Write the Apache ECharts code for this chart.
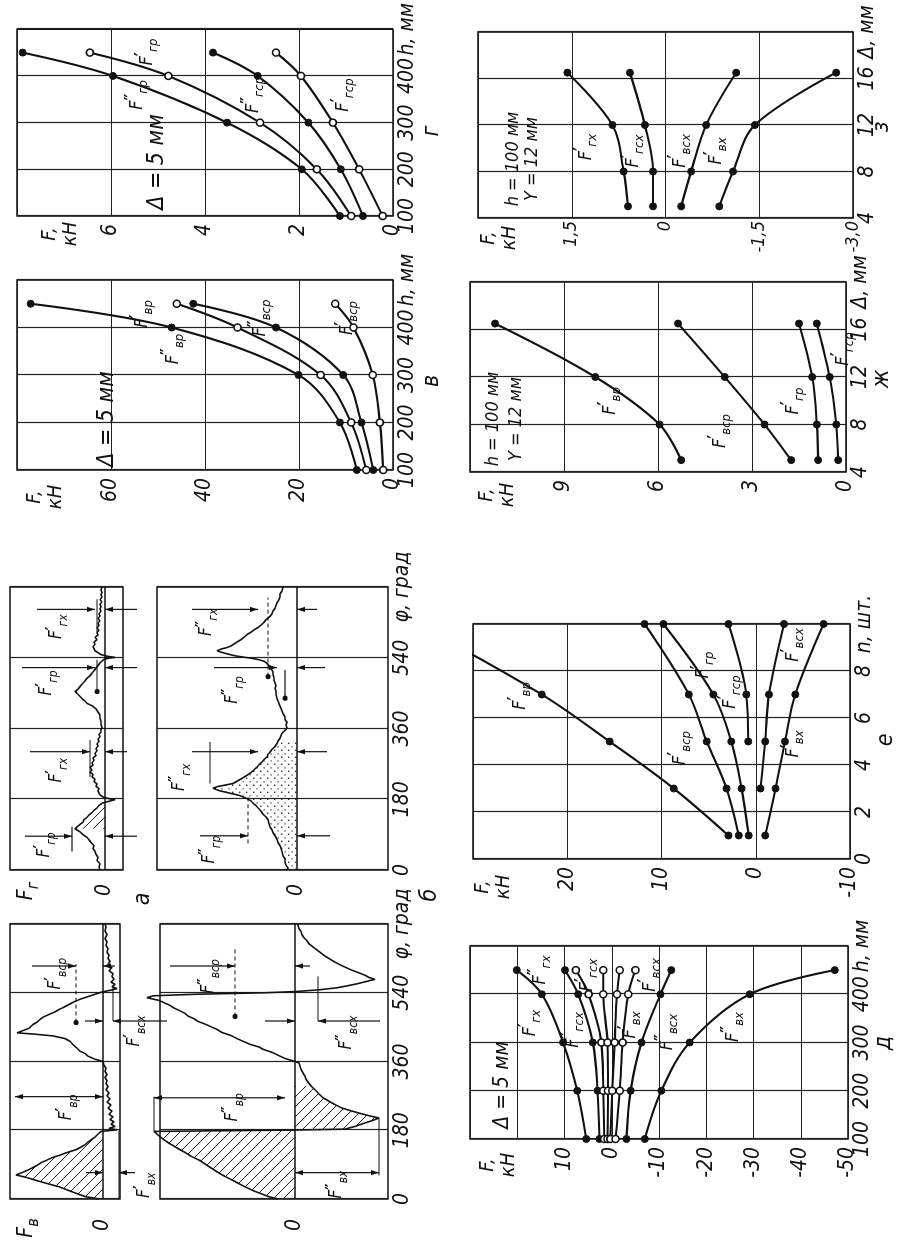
<!DOCTYPE html>
<html><head><meta charset="utf-8">
<script src="https://cdn.jsdelivr.net/npm/echarts@6/dist/echarts.min.js"></script>
<style>
html,body{margin:0;padding:0;background:#fff;overflow:hidden;width:907px;height:1242px;}
#wrap{position:absolute;left:0;top:0;width:1242px;height:907px;transform-origin:0 0;transform:translate(0px,1242px) rotate(-90deg);background:#fff;}
</style></head><body><div id="wrap"></div>
<script>
// ---------- DATA ----------
// panel г (Δ=5 мм), h, мм
const hG = [100, 200, 300, 400, 450];
const gFgr2  = [1.13, 1.94, 3.53, 5.96, 7.88];
const gFgr1  = [0.89, 1.62, 2.83, 4.78, 6.45];
const gFgsr2 = [0.64, 1.11, 1.80, 2.88, 3.83];
const gFgsr1 = [0.22, 0.72, 1.28, 1.96, 2.49];
// panel в (Δ=5 мм)
const hV = [100, 200, 300, 400, 450];
const vFvr2  = [7.7, 11.3, 20.1, 47.1, 77.1];
const vFvr1  = [5.7, 8.9, 15.4, 33.1, 46.0];
const vFvsr2 = [4.2, 6.7, 10.6, 24.9, 42.5];
const vFvsr1 = [2.1, 2.8, 4.3, 8.4, 12.3];
// panel з (h=100, Y=12), Δ, мм
const dZ = [5, 8, 12, 16.5];
const zFgx  = [0.60, 0.67, 0.85, 1.57];
const zFgsx = [0.20, 0.20, 0.33, 0.57];
const zFvsx = [-0.25, -0.41, -0.65, -1.13];
const zFvx  = [-0.86, -1.08, -1.43, -2.73];
// panel ж (h=100, Y=12)
const dJ = [5, 8, 12, 16.5];
const jFvr  = [5.26, 5.95, 8.0, 11.2];
const jFvsr = [1.75, 2.6, 3.87, 5.36];
const jFgr  = [0.89, 0.93, 1.08, 1.5];
const jFgsr = [0.25, 0.31, 0.52, 0.93];
// panel е, n, шт.
const nE = [1, 3, 5, 7, 10];
const eFvr  = [2.9, 8.7, 15.5, 22.7, 36.0];
const eFvsr = [1.8, 3.1, 5.2, 7.1, 11.8];
const eFgr  = [0.75, 1.5, 2.6, 4.5, 9.8];
const eFgsr = [null, null, 0.8, 1.0, 2.9];
const eFvsx = [null, -0.5, -1.0, -1.4, -3.0];
const eFvx  = [-1.0, -2.1, -3.1, -4.2, -7.2];
// panel д (Δ=5 мм)
const hD = [100, 200, 300, 400, 450];
const dFgx1  = [5.4, 7.3, 10.3, 14.8, 20.1];
const dFgx2  = [2.6, 3.0, 4.0, 7.1, 9.9];
const dFgsx2 = [1.6, 1.8, 2.2, 4.9, 7.6];
const dFgsx1 = [0.9, 0.8, 0.9, 1.8, 1.8];
const dFvsx1 = [0.3, -0.1, -0.6, -1.1, -1.7];
const dFvx1  = [-0.8, -1.7, -2.3, -3.5, -5.0];
const dFvsx2 = [-3.1, -4.0, -6.3, -10.3, -12.6];
const dFvx2  = [-7.0, -10.5, -16.5, -29.2, -47.2];
// oscillograms [φ, F] (relative units)
const sigBv1 = [[0,4],[6,17],[12,24],[20,32],[26,38],[32,44],[40,55],[48,66],[56,76],[63,87],[70,80],[76,75],[81,71],[88,66],[95,62],[102,56],[108,51],[114,44],[120,38],[125,32],[129,27],[136,22],[142,18],[149,15],[155,12],[162,8],[170,5],[177,2],[181,-14],[185,-6],[190,-12],[196,-8],[202,-11],[208,-7],[215,-10],[222,-6],[230,-9],[238,-5],[246,-8],[254,-4],[262,-7],[270,-4],[278,-6],[286,-3],[294,-5],[302,-3],[310,-4],[318,-2],[326,-4],[334,-2],[342,-3],[350,-1],[360,0],[366,8],[374,15],[381,18],[387,23],[395,26],[404,30],[413,33],[420,38],[427,50],[432,70],[435,86],[441,80],[447,74],[452,73],[457,70],[463,66],[470,63],[476,60],[482,55],[490,48],[496,44],[501,40],[508,35],[515,30],[523,23],[530,15],[536,8],[542,1],[547,-8],[551,-14],[556,-9],[562,-12],[568,-8],[575,-11],[583,-9],[590,-10],[598,-6],[606,-9],[614,-5],[622,-7],[630,-5],[638,-6],[646,-4],[655,-5],[664,-3],[673,-4],[682,-2],[692,-4],[702,-2],[712,-3],[720,-2]];
const sigBv2 = [[0,17],[6,26],[14,34],[22,42],[32,50],[40,56],[50,63],[59,70],[68,76],[78,82],[90,89],[102,96],[112,104],[122,110],[132,117],[140,122],[146,126],[155,131],[163,135],[170,138],[177,141],[179,141],[180.5,0],[183,-50],[190,-60],[199,-70],[206,-78],[212,-84],[218,-74],[225,-64],[231,-56],[238,-47],[247,-40],[256,-34],[265,-28],[275,-24],[286,-20],[296,-16],[306,-13],[314,-11],[321,-10],[330,-8],[340,-6],[348,-5],[356,-4],[360,0],[368,10],[374,15],[383,22],[392,32],[398,36],[405,45],[413,52],[420,58],[428,64],[436,73],[444,78],[451,84],[458,90],[465,97],[472,101],[479,107],[486,110],[494,116],[500,121],[507,125],[514,131],[520,136],[527,148],[532,142],[536,100],[540,30],[543,0],[548,-25],[553,-42],[558,-52],[564,-63],[570,-72],[575,-80],[580,-74],[586,-70],[594,-62],[600,-56],[606,-51],[612,-46],[620,-40],[628,-35],[636,-30],[644,-26],[652,-22],[660,-18],[668,-14],[676,-12],[684,-9],[692,-7],[700,-6],[708,-4],[716,-3],[720,-3]];
const sigBg1 = [[0,5],[8,6],[16,5],[24,8],[32,7],[40,9],[47,10],[55,12],[62,11],[70,14],[77,16],[83,18],[90,22],[97,25],[105,30],[110,28],[116,25],[122,22],[128,21],[134,18],[140,16],[146,13],[152,11],[158,8],[164,6],[170,3],[175,1],[179,-10],[182,-3],[186,2],[191,5],[196,4],[201,7],[207,6],[213,9],[219,8],[225,11],[231,10],[237,13],[243,12],[249,15],[255,13],[261,15],[267,12],[273,13],[279,11],[285,12],[291,9],[297,10],[303,8],[309,9],[315,7],[321,8],[327,6],[333,7],[339,5],[345,6],[351,4],[357,4],[363,3],[370,4],[378,4],[386,5],[394,5],[402,7],[410,9],[418,13],[424,18],[430,20],[436,23],[441,25],[447,27],[454,30],[460,27],[465,26],[470,24],[475,23],[481,20],[488,18],[494,15],[501,13],[507,11],[512,10],[517,8],[522,7],[527,5],[532,3],[536,1],[539,-4],[541,-10],[544,-2],[548,4],[553,7],[558,10],[563,9],[568,12],[574,10],[580,11],[586,8],[592,10],[598,7],[604,8],[610,6],[616,8],[622,6],[628,7],[634,5],[640,7],[646,5],[652,6],[658,4],[664,5],[670,4],[676,5],[682,3],[688,5],[694,3],[700,4],[706,3],[712,4],[720,3]];
const sigBg2 = [[0,10],[6,9],[12,11],[20,12],[28,12],[36,14],[47,15],[55,16],[62,17],[70,19],[78,20],[87,22],[95,24],[102,25],[110,27],[118,28],[128,29],[135,31],[142,34],[150,36],[158,39],[164,41],[170,44],[176,46],[180,47],[184,52],[190,58],[196,68],[202,78],[208,84],[212,80],[216,72],[220,64],[226,60],[233,55],[241,50],[248,46],[255,43],[262,40],[268,38],[275,35],[281,33],[288,30],[294,29],[300,27],[307,25],[314,22],[322,20],[328,19],[335,17],[342,16],[348,15],[355,12],[362,10],[369,11],[376,10],[383,12],[390,12],[398,14],[405,15],[411,16],[416,17],[423,18],[430,19],[436,20],[441,20],[448,21],[455,21],[462,22],[469,21],[476,22],[483,23],[490,23],[497,24],[503,24],[509,25],[515,27],[520,28],[526,30],[531,33],[535,38],[538,44],[541,52],[545,62],[550,70],[555,77],[558,80],[562,76],[566,70],[570,66],[575,63],[580,60],[586,56],[592,53],[599,50],[605,46],[611,43],[617,39],[623,36],[630,33],[637,31],[645,27],[652,25],[659,24],[666,22],[673,21],[680,20],[688,18],[695,17],[702,17],[710,15],[720,14]];
// tick labels
const phiTicks = [0, 180, 360, 540];
const zTickText = {'3':'', '1.5':'1,5', '0':'0', '-1.5':'-1,5', '-3':'-3,0'};

// ---------- LAYOUT (upright frame 1242 x 907, later rotated) ----------
const FR = '"Liberation Sans Narrow","DejaVu Sans Condensed",sans-serif';
const gridNames = ['bv1','bv2','bg1','bg2','d','e','v','j','g','z'];
const GRID = {
  bv1:{left:43, top:10, width:275, height:110},
  bv2:{left:43, top:160, width:275, height:228},
  bg1:{left:372, top:10, width:283, height:113},
  bg2:{left:372, top:157, width:283, height:231},
  d:{left:103, top:470, width:193, height:378},
  e:{left:383, top:473, width:235, height:377},
  v:{left:772, top:17, width:190, height:376},
  j:{left:770, top:470, width:190, height:376},
  g:{left:1026, top:17, width:192, height:376},
  z:{left:1024, top:478, width:186, height:375}
};
const AX = {
  bv1:{x:[0,720,180], y:[-17,93], xl:false, ym:20},
  bv2:{x:[0,720,180], y:[-93,135], xlast:'φ, град', ym:20},
  bg1:{x:[0,720,180], y:[-18,95], xl:false, ym:14},
  bg2:{x:[0,720,180], y:[-91,140], xlast:'φ, град', ym:14},
  d:{x:[100,500,100], y:[-50,30,10], xlast:'h, мм', hide:[20,30]},
  e:{x:[0,10,2], y:[-10,30,10], xlast:'n, шт.', hide:[30]},
  v:{x:[100,500,100], y:[0,80,20], xlast:'h, мм', hide:[80]},
  j:{x:[4,20,4], y:[0,12,3], xlast:'Δ, мм', hide:[12]},
  g:{x:[100,500,100], y:[0,8,2], xlast:'h, мм', hide:[8]},
  z:{x:[4,20,4], y:[-3,3,1.5], xlast:'Δ, мм', comma:true, ym:3, yfs:18}
};
const LBL = {fontFamily:FR, fontStyle:'italic', fontSize:21, color:'#111'};

const grid = gridNames.map(n => Object.assign({show:true, borderColor:'#111', borderWidth:1.5, backgroundColor:'transparent'}, GRID[n]));
const xAxis = gridNames.map((n,i) => {
  const a = AX[n];
  return {type:'value', gridIndex:i, min:a.x[0], max:a.x[1], interval:a.x[2],
    axisLine:{show:false, onZero:false}, axisTick:{show:false},
    splitLine:{show:true, lineStyle:{color:'#222', width:1.2}},
    axisLabel: a.xl===false ? {show:false} :
      Object.assign({margin:4, formatter: v => v===a.x[1] ? a.xlast : String(v)}, LBL)};
});
const yAxis = gridNames.map((n,i) => {
  const a = AX[n];
  const sig = a.y.length < 3;
  const o = {type:'value', gridIndex:i, min:a.y[0], max:a.y[1],
    axisLine:{show:false, onZero:false}, axisTick:{show:false},
    splitLine:{show:!sig, lineStyle:{color:'#222', width:1.2}},
    axisLabel: Object.assign({}, LBL, {margin:a.ym||8, fontSize:a.yfs||LBL.fontSize, formatter: v => {
      if (sig) return v===0 ? '0' : '';
      if (a.comma) return zTickText[String(v)] !== undefined ? zTickText[String(v)] : String(v);
      return (a.hide||[]).includes(v) ? '' : String(v);
    }})};
  if (!sig) o.interval = a.y[2];
  return o;
});

const gi = n => gridNames.indexOf(n);
const series = [];
function cur(g, xs, ys, open){
  series.push({type:'line', xAxisIndex:gi(g), yAxisIndex:gi(g),
    data: xs.map((x,i) => [x, ys[i]===null ? '-' : ys[i]]),
    smooth:0.35, symbol:'circle', symbolSize:7, showSymbol:true, connectNulls:false,
    lineStyle:{color:'#111', width:2.1}, z:3,
    itemStyle: open ? {color:'#fff', borderColor:'#111', borderWidth:1.6} : {color:'#111', borderColor:'#111', borderWidth:1}});
}
cur('g', hG, gFgr2, false); cur('g', hG, gFgr1, true); cur('g', hG, gFgsr2, false); cur('g', hG, gFgsr1, true);
cur('v', hV, vFvr2, false); cur('v', hV, vFvr1, true); cur('v', hV, vFvsr2, false); cur('v', hV, vFvsr1, true);
cur('z', dZ, zFgx, false); cur('z', dZ, zFgsx, false); cur('z', dZ, zFvsx, false); cur('z', dZ, zFvx, false);
cur('j', dJ, jFvr, false); cur('j', dJ, jFvsr, false); cur('j', dJ, jFgr, false); cur('j', dJ, jFgsr, false);
cur('e', nE, eFvr, false); cur('e', nE, eFvsr, false); cur('e', nE, eFgr, false); cur('e', nE, eFgsr, false); cur('e', nE, eFvsx, false); cur('e', nE, eFvx, false);
cur('d', hD, dFgx1, false); cur('d', hD, dFgx2, false); cur('d', hD, dFgsx2, true); cur('d', hD, dFgsx1, true);
cur('d', hD, dFvsx1, true); cur('d', hD, dFvx1, true); cur('d', hD, dFvsx2, false); cur('d', hD, dFvx2, false);

function hatchPat(step){
  const c = document.createElement('canvas'); c.width = c.height = step;
  const x = c.getContext('2d'); x.strokeStyle = '#222'; x.lineWidth = 1;
  x.beginPath(); for (const k of [-1,0,1]) { x.moveTo(k*step, 0); x.lineTo(k*step+step, step); } x.stroke();
  return c;
}
function dotPat(step){
  const c = document.createElement('canvas'); c.width = c.height = step;
  const x = c.getContext('2d'); x.fillStyle = '#333'; x.fillRect(1,1,1.4,1.4); x.fillRect(step/2+1, step/2+1, 1.2, 1.2);
  return c;
}
function sig(g, data, fills){
  fills.forEach(f => {
    series.push({type:'line', xAxisIndex:gi(g), yAxisIndex:gi(g), data: data.filter(p => p[0]>=f[0] && p[0]<=f[1]),
      symbol:'none', lineStyle:{width:0, opacity:0}, z:1,
      areaStyle:{origin:0, opacity:1, color:{image: f[2]==='dot' ? dotPat(7) : hatchPat(10), repeat:'repeat'}}});
  });
  series.push({type:'line', xAxisIndex:gi(g), yAxisIndex:gi(g), data, symbol:'none', clip:false, z:3,
    lineStyle:{color:'#111', width:1.6},
    markLine:{silent:true, symbol:'none', label:{show:false}, lineStyle:{color:'#111', width:1.7, type:'solid'}, data:[{yAxis:0}]}});
}
sig('bv1', sigBv1, [[0,180,'h']]);
sig('bv2', sigBv2, [[0,300,'h']]);
sig('bg1', sigBg1, [[100,182,'h']]);
sig('bg2', sigBg2, [[0,330,'dot']]);

// annotations on oscillograms (data coordinates φ, F)
const ANN = [
  {g:'bv1',t:'in',phi:268,a:0,b:88},{g:'bv1',t:'lab',phi:240,f:36,pr:'′',sub:'вр'},
  {g:'bv1',t:'out',phi:69,a:0,a0:17,b:-16,b0:-32},{g:'bv1',t:'ext',f:-16,p1:0,p2:180},{g:'bv1',t:'lab',phi:36,f:-42,pr:'′',sub:'вх'},
  {g:'bv1',t:'out',phi:610,a:27,a0:71,b:0,b0:-12},{g:'bv1',t:'ext',f:27,p1:462,p2:615,dash:true},{g:'bv1',t:'dot',phi:462,f:27},{g:'bv1',t:'lab',phi:590,f:47,pr:'′',sub:'вср'},
  {g:'bv1',t:'out',phi:466,a:0,a0:18,b:-10,b0:-64},{g:'bv1',t:'ext',f:-10,p1:466,p2:555},{g:'bv1',t:'lab',phi:440,f:-32,pr:'′',sub:'всх'},
  {g:'bv2',t:'in',phi:265,a:10,b:141},{g:'bv2',t:'ext',f:141,p1:178,p2:268},{g:'bv2',t:'lab',phi:240,f:62,pr:'″',sub:'вр'},
  {g:'bv2',t:'in',phi:69,a:0,b:-84},{g:'bv2',t:'ext',f:-84,p1:62,p2:212},{g:'bv2',t:'lab',phi:38,f:-42,pr:'″',sub:'вх'},
  {g:'bv2',t:'out',phi:610,a:60,a0:125,b:0,b0:-15},{g:'bv2',t:'ext',f:60,p1:478,p2:655,dash:true},{g:'bv2',t:'dot',phi:478,f:60},{g:'bv2',t:'lab',phi:583,f:86,pr:'″',sub:'вср'},
  {g:'bv2',t:'out',phi:466,a:0,a0:30,b:-23,b0:-85},{g:'bv2',t:'ext',f:-23,p1:466,p2:583},{g:'bv2',t:'lab',phi:436,f:-52,pr:'″',sub:'всх'},
  {g:'bg1',t:'out',phi:86,a:33,a0:80,b:0,b0:-32},{g:'bg1',t:'ext',f:33,p1:47,p2:110},{g:'bg1',t:'lab',phi:64,f:60,pr:'′',sub:'гр'},
  {g:'bg1',t:'out',phi:301,a:15,a0:75,b:0,b0:-22},{g:'bg1',t:'ext',f:15,p1:237,p2:331},{g:'bg1',t:'lab',phi:254,f:48,pr:'′',sub:'гх'},
  {g:'bg1',t:'out',phi:515,a:10,a0:83,b:0,b0:-32},{g:'bg1',t:'ext',f:8,p1:454,p2:535},{g:'bg1',t:'dot',phi:454,f:8},{g:'bg1',t:'lab',phi:476,f:58,pr:'′',sub:'гр'},
  {g:'bg1',t:'out',phi:663,a:10,a0:68,b:0,b0:-32},{g:'bg1',t:'ext',f:8,p1:604,p2:689},{g:'bg1',t:'lab',phi:619,f:48,pr:'′',sub:'гх'},
  {g:'bg2',t:'out',phi:87,a:49,a0:97,b:0,b0:-33},{g:'bg2',t:'ext',f:49,p1:68,p2:189,dash:true},{g:'bg2',t:'lab',phi:52,f:87,pr:'″',sub:'гр'},
  {g:'bg2',t:'out',phi:301,a:39,a0:105,b:0,b0:-30},{g:'bg2',t:'ext',f:87,p1:220,p2:326},{g:'bg2',t:'lab',phi:236,f:117,pr:'″',sub:'гх'},
  {g:'bg2',t:'out',phi:515,a:20,a0:83,b:0,b0:-28},{g:'bg2',t:'ext',f:12,p1:437,p2:509},{g:'bg2',t:'dot',phi:437,f:12},{g:'bg2',t:'lab',phi:458,f:64,pr:'″',sub:'гр'},
  {g:'bg2',t:'out',phi:663,a:39,a0:105,b:0,b0:-20},{g:'bg2',t:'ext',f:29,p1:492,p2:693,dash:true},{g:'bg2',t:'dot',phi:492,f:29},{g:'bg2',t:'lab',phi:630,f:90,pr:'″',sub:'гх'}
];
// curve labels in the graphs (upright pixel positions)
const CLAB = [
  [1147,137,'″','гр'],[1190,147,'′','гр'],[1147,253,'″','гср'],[1147,343,'′','гср'],
  [893,173,'″','вр'],[928,142,'′','вр'],[924,260,'″','вср'],[924,347,'′','вср'],
  [1095,586,'′','гх'],[1091,633,'′','гсх'],[1091,680,'′','всх'],[1091,716,'′','вх'],
  [841,610,'′','вр'],[811,720,'′','вср'],[841,793,'′','гр'],[893,843,'′','гср'],
  [546,520,'′','вр'],[494,680,'′','вср'],[577,703,'′','гр'],[550,730,'′','гср'],[597,793,'′','всх'],[498,793,'′','вх'],
  [219,530,'′','гх'],[272,540,'″','гх'],[212,573,'″','гсх'],[267,587,'′','гсх'],[217,630,'′','вх'],[267,650,'′','всх'],[210,667,'″','всх'],[215,733,'″','вх']
];
const TEXTS = [
  [343,143,'а',23],[347,430,'б',23],[861,432,'в',23],[1111,432,'г',23],
  [199,884,'д',23],[502,886,'е',23],[863,882,'ж',23],[1115,882,'з',23],
  [1080,157,'Δ = 5 мм',23],[823,107,'Δ = 5 мм',23],[157,503,'Δ = 5 мм',21],
  [823,493,'h = 100 мм',18],[823,516,'Y = 12 мм',18],[1083,513,'h = 100 мм',18],[1083,532,'Y = 12 мм',18],
  [1008,60,'F,\nкН',20],[745,45,'F,\nкН',20],[747,497,'F,\nкН',20],[1004,499,'F,\nкН',20],[355,493,'F,\nкН',20],[77,498,'F,\nкН',20]
];
const SIGY = [[14,27,'в'],[351,27,'г']];

const chart = echarts.init(document.getElementById('wrap'), null, {renderer:'canvas', width:1242, height:907});
chart.setOption({animation:false, backgroundColor:'#fff', grid, xAxis, yAxis, series});

const gfx = [];
const P = (g, x, y) => chart.convertToPixel({gridIndex:gi(g)}, [x, y]);
function seg(a, b, dash, w){ gfx.push({type:'line', silent:true, z:50, shape:{x1:a[0],y1:a[1],x2:b[0],y2:b[1]}, style:{stroke:'#111', lineWidth:w||1.2, lineDash:dash?[4,3]:null}}); }
function arrow(from, to){
  const dx = to[0]-from[0], dy = to[1]-from[1], L = Math.hypot(dx,dy)||1, ux = dx/L, uy = dy/L, len = 8, hw = 2.6;
  const bx = to[0]-ux*len, by = to[1]-uy*len;
  gfx.push({type:'polygon', silent:true, z:51, shape:{points:[[to[0],to[1]],[bx-uy*hw,by+ux*hw],[bx+uy*hw,by-ux*hw]]}, style:{fill:'#111'}});
}
function flab(u, v, pr, sub, size){
  size = size || 18;
  gfx.push({type:'text', silent:true, z:60, x:u, y:v, style:{
    text:'{f|F}{p|'+pr+'}{s|'+sub+'}', align:'center', verticalAlign:'middle', textAlign:'center', textVerticalAlign:'middle',
    rich:{f:{font:'italic '+size+'px '+FR, fill:'#111', lineHeight:size+8, verticalAlign:'middle'},
          p:{font:'bold '+(size-1)+'px '+FR, fill:'#111', verticalAlign:'top'},
          s:{font:'italic '+(size-5)+'px '+FR, fill:'#111', verticalAlign:'bottom'}}}});
}
function txt(u, v, s, size){
  gfx.push({type:'text', silent:true, z:60, x:u, y:v, style:{text:s, font:'italic '+size+'px '+FR, fill:'#111',
    align:'center', verticalAlign:'middle', textAlign:'center', textVerticalAlign:'middle', lineHeight:size+1}});
}
ANN.forEach(a => {
  if (a.t==='in'){ const p1 = P(a.g,a.phi,a.a), p2 = P(a.g,a.phi,a.b); seg(p1,p2); arrow(p2,p1); arrow(p1,p2); }
  else if (a.t==='out'){ const pa = P(a.g,a.phi,a.a), pa0 = P(a.g,a.phi,a.a0), pb = P(a.g,a.phi,a.b), pb0 = P(a.g,a.phi,a.b0);
    seg(pa0,pa); arrow(pa0,pa); seg(pb0,pb); arrow(pb0,pb); }
  else if (a.t==='ext'){ seg(P(a.g,a.p1,a.f), P(a.g,a.p2,a.f), a.dash); }
  else if (a.t==='dot'){ const p = P(a.g,a.phi,a.f); gfx.push({type:'circle', silent:true, z:52, shape:{cx:p[0],cy:p[1],r:2.6}, style:{fill:'#111'}}); }
  else if (a.t==='lab'){ const p = P(a.g,a.phi,a.f); flab(p[0],p[1],a.pr,a.sub,17); }
});
CLAB.forEach(c => flab(c[0], c[1], c[2], c[3], 18));
TEXTS.forEach(t => txt(t[0], t[1], t[2], t[3]));
SIGY.forEach(s => flab(s[0], s[1], '', s[2], 21));
chart.setOption({graphic: gfx});
</script></body></html>
